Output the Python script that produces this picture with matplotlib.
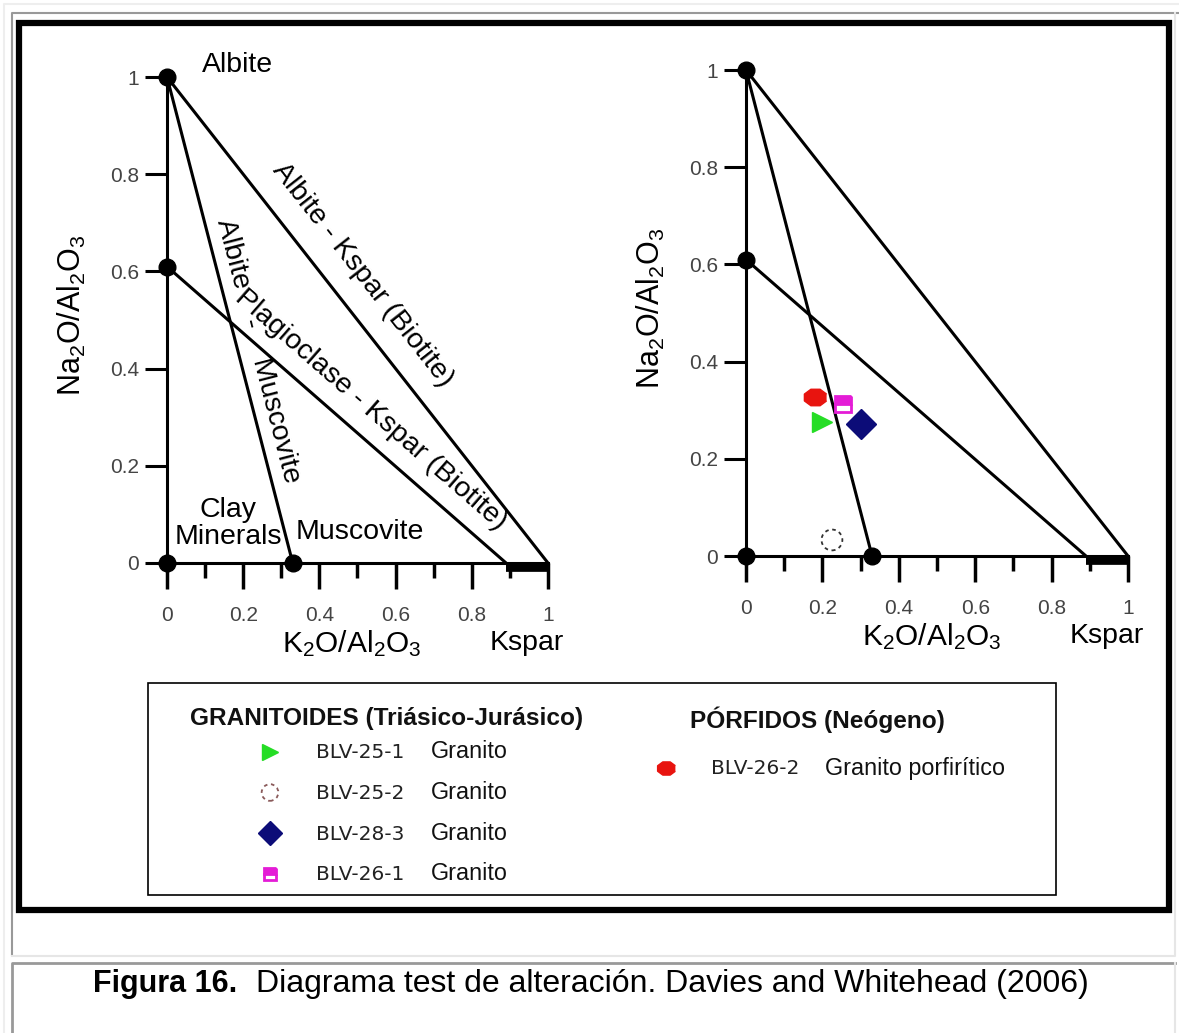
import numpy as np
import matplotlib
matplotlib.use('Agg')
import matplotlib.pyplot as plt
from matplotlib.patches import Rectangle

# muestras graficadas en el diagrama derecho
muestras = ['BLV-25-1', 'BLV-25-2', 'BLV-28-3', 'BLV-26-1', 'BLV-26-2']
rocas = ['Granito', 'Granito', 'Granito', 'Granito', 'Granito porfirítico']
grupos = [0, 0, 0, 0, 1]
k2o_al2o3 = [0.20, 0.225, 0.30, 0.254, 0.18]
na2o_al2o3 = [0.276, 0.033, 0.272, 0.313, 0.327]
titulos_grupos = ['GRANITOIDES (Triásico-Jurásico)', 'PÓRFIDOS (Neógeno)']

# diagrama de Davies y Whitehead (2006)
vertices_x = [0, 0, 0, 0.33]
vertices_y = [1, 0.61, 0, 0]
albita_kspar_x = [0, 1]
albita_kspar_y = [1, 0]
albita_moscovita_x = [0, 0.33]
albita_moscovita_y = [1, 0]
plagioclasa_kspar_x = [0, 0.89]
plagioclasa_kspar_y = [0.61, 0]
campo_kspar_x = [0.89, 1.0]

ticks = [0, 0.2, 0.4, 0.6, 0.8, 1]
etiquetas_ticks = ['0', '0.2', '0.4', '0.6', '0.8', '1']
ticks_menores = [0.1, 0.3, 0.5, 0.7, 0.9]

ANCHO, ALTO = 1179, 1033

plt.rcParams['font.family'] = 'Liberation Sans'
plt.rcParams['mathtext.fontset'] = 'custom'
plt.rcParams['mathtext.rm'] = 'Liberation Sans'
plt.rcParams['mathtext.it'] = 'Liberation Sans:italic'
plt.rcParams['mathtext.bf'] = 'Liberation Sans:bold'

ovalo = [(1.35 * np.cos(t), np.sin(t)) for t in np.linspace(0, 2 * np.pi, 9)[:-1] + np.pi / 8]

estilos = {
    'BLV-25-1': dict(marker='>', mfc='#25dd25', mec='#25dd25', ms=15),
    'BLV-25-2': dict(marker='o', mfc='none', mec='#333333', ms=15),
    'BLV-28-3': dict(marker='D', mfc='#0c0c78', mec='#0c0c78', ms=15),
    'BLV-26-1': dict(marker='s', mfc='#e41cd6', mec='#e41cd6', mfcalt='white',
                     fillstyle='top', ms=11, mew=2),
    'BLV-26-2': dict(marker=ovalo, mfc='#e8140f', mec='#e8140f', ms=16),
}


def dibujar_marca(ax, x, y, nombre, escala=1.0):
    estilo = dict(estilos[nombre])
    estilo['ms'] = estilo['ms'] * escala
    if nombre == 'BLV-25-2':
        color = '#333333' if escala == 1.0 else '#8a5a5a'
        ax.scatter([x], [y], s=estilo['ms'] ** 2, facecolors='none', edgecolors=color,
                   linewidths=1.3, linestyles=(0, (2, 2)), zorder=6)
    else:
        ax.plot([x], [y], linestyle='none', zorder=6, **estilo)


def angulo(ax, xs, ys):
    p = ax.transData.transform(np.column_stack([xs, ys]))
    return np.degrees(np.arctan2(p[1, 1] - p[0, 1], p[1, 0] - p[0, 0]))


def crear_diagrama(fig, x0, y0, ex, ey):
    xmin, xmax, ymin, ymax = -0.3, 1.1, -0.2, 1.08
    izq = x0 + xmin * ex
    der = x0 + xmax * ex
    arriba = y0 - ymax * ey
    abajo = y0 - ymin * ey
    ax = fig.add_axes([izq / ANCHO, 1 - abajo / ALTO, (der - izq) / ANCHO, (abajo - arriba) / ALTO])
    ax.set_xlim(xmin, xmax)
    ax.set_ylim(ymin, ymax)
    ax.patch.set_alpha(0)
    ax.spines['top'].set_visible(False)
    ax.spines['right'].set_visible(False)
    for lado in ['left', 'bottom']:
        ax.spines[lado].set_position(('data', 0))
        ax.spines[lado].set_bounds(0, 1)
        ax.spines[lado].set_linewidth(2.2)

    ax.set_xticks(ticks)
    ax.set_xticklabels(etiquetas_ticks)
    ax.set_xticks(ticks_menores, minor=True)
    ax.set_yticks(ticks)
    ax.set_yticklabels(etiquetas_ticks)
    ax.tick_params(axis='x', which='major', direction='out', length=19, width=2.5,
                   pad=12, labelsize=15, labelcolor='#444444')
    ax.tick_params(axis='x', which='minor', direction='out', length=11, width=2.5)
    ax.tick_params(axis='y', which='major', direction='out', length=16, width=2.2,
                   pad=4, labelsize=15, labelcolor='#444444')

    lw = 2.2
    ax.plot(albita_kspar_x, albita_kspar_y, color='black', lw=lw)
    ax.plot(albita_moscovita_x, albita_moscovita_y, color='black', lw=lw)
    ax.plot(plagioclasa_kspar_x, plagioclasa_kspar_y, color='black', lw=lw)
    ax.plot(campo_kspar_x, [-0.008, -0.008], color='black', lw=7, solid_capstyle='butt')
    ax.plot(vertices_x, vertices_y, 'o', color='black', ms=12, zorder=5)

    ax.text(-0.25, 0.51, r'Na$_2$O/Al$_2$O$_3$', rotation=90, ha='center', va='center', fontsize=22)
    ax.text(0.486, -0.165, r'K$_2$O/Al$_2$O$_3$', ha='center', va='center', fontsize=21.5)
    ax.text(0.945, -0.165, 'Kspar', ha='center', va='center', fontsize=20.5)
    return ax


fig = plt.figure(figsize=(ANCHO / 100, ALTO / 100), dpi=100)
fondo = fig.add_axes([0, 0, 1, 1])
fondo.set_xlim(0, ANCHO)
fondo.set_ylim(ALTO, 0)
fondo.axis('off')

# marcos
fondo.plot([4, 4, 1179], [1033, 4, 4], color='#eeeeee', lw=1.5)
fondo.plot([12, 12, 1179], [955, 13, 13], color='#999999', lw=1.5)
fondo.plot([12, 1175, 1175], [956, 956, 13], color='#e6e6e6', lw=1.5)
fondo.add_patch(Rectangle((19, 23), 1150, 887, fill=False, ec='black', lw=4.5))
fondo.plot([12, 12, 1175], [1033, 963, 963], color='#999999', lw=2)
fondo.plot([1175, 1175], [963, 1033], color='#e6e6e6', lw=1.5)

# diagrama izquierdo
ax1 = crear_diagrama(fig, 167, 563, 381, 486)
ax1.text(0.184, 1.025, 'Albite', ha='center', va='center', fontsize=20.5)
ax1.text(0.512, 0.593, 'Albite - Kspar (Biotite)', ha='center', va='center', fontsize=20.5,
         rotation=angulo(ax1, albita_kspar_x, albita_kspar_y), rotation_mode='anchor')
ax1.text(0.238, 0.436, 'Albite    -    Muscovite', ha='center', va='center', fontsize=20.5,
         rotation=angulo(ax1, albita_moscovita_x, albita_moscovita_y), rotation_mode='anchor')
ax1.text(0.535, 0.315, 'Plagioclase - Kspar (Biotite)', ha='center', va='center', fontsize=20.5,
         rotation=angulo(ax1, plagioclasa_kspar_x, plagioclasa_kspar_y), rotation_mode='anchor')
ax1.text(0.16, 0.082, 'Clay\nMinerals', ha='center', va='center', fontsize=20.5, linespacing=1.05)
ax1.text(0.507, 0.064, 'Muscovite', ha='center', va='center', fontsize=20.5)

# diagrama derecho con las muestras
ax2 = crear_diagrama(fig, 746, 556, 382, 486)
for x, y, nombre in zip(k2o_al2o3, na2o_al2o3, muestras):
    dibujar_marca(ax2, x, y, nombre)

# leyenda
fondo.add_patch(Rectangle((148, 683), 908, 212, fill=False, ec='black', lw=1.2))
columnas = [(190, 270, 316, 431, 718, 752), (690, 666, 711, 825, 720, 768)]
fila = [0, 0]
for nombre, roca, g in zip(muestras, rocas, grupos):
    xt, xm, xb, xr, yt, y0 = columnas[g]
    y = y0 + fila[g] * 40.5
    dibujar_marca(fondo, xm, y, nombre, escala=0.8)
    fondo.text(xb, y + 1, nombre, fontsize=14.5, family='DejaVu Sans', color='#222222', va='center')
    fondo.text(xr, y, roca, fontsize=16.8, color='#111111', va='center')
    fila[g] += 1
for g, titulo in enumerate(titulos_grupos):
    xt, yt = columnas[g][0], columnas[g][4]
    fondo.text(xt, yt, titulo, fontsize=17.6, fontweight='bold', color='#111111', va='center')

# pie de figura
fondo.text(93, 992, 'Figura 16.', fontsize=22, fontweight='bold', va='baseline')
fondo.text(256, 992, 'Diagrama test de alteración. Davies and Whitehead (2006)',
           fontsize=23, va='baseline')

fig.savefig('out.png', dpi=100)
